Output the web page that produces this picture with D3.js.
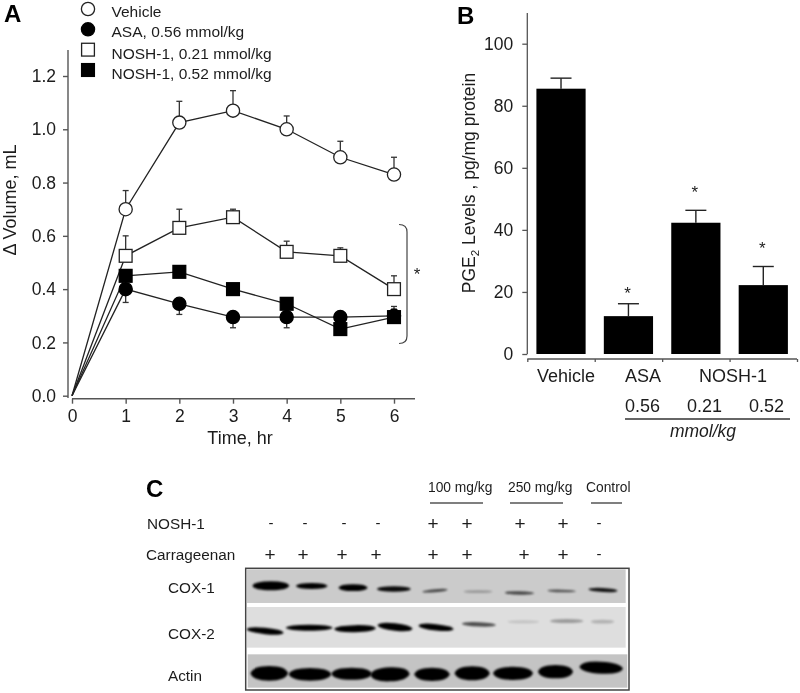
<!DOCTYPE html>
<html><head><meta charset="utf-8">
<script src="https://cdn.jsdelivr.net/npm/d3@7"></script>
<style>
html,body{margin:0;padding:0;background:#fff}
svg{display:block;filter:blur(0.45px)}
text{font-family:"Liberation Sans",Arial,sans-serif;fill:#1c1c1c}
</style></head><body>
<svg id="c" width="800" height="693"></svg>
<script>
// ---- Panel A data
const hours = [0,1,2,3,4,5,6];
const vehicle = [0,0.70,1.025,1.07,1.0,0.895,0.83];
const vehicleErr = [0,0.07,0.08,0.075,0.05,0.06,0.065];
const asa = [0,0.40,0.345,0.295,0.295,0.295,0.30];
const asaErr = [0,-0.05,-0.04,-0.04,-0.04,0,0.035];
const nosh21 = [0,0.525,0.63,0.67,0.54,0.525,0.40];
const nosh21Err = [0,0.075,0.07,0.03,0.04,0.03,0.05];
const nosh52 = [0,0.45,0.465,0.40,0.345,0.25,0.295];
const nosh52Err = [0,0,0,0,0,0,0.03];
const legendLabels = ["Vehicle","ASA, 0.56 mmol/kg","NOSH-1, 0.21 mmol/kg","NOSH-1, 0.52 mmol/kg"];
const yTicksA = [0,0.2,0.4,0.6,0.8,1.0,1.2];
// ---- Panel B data
const barCats = ["Vehicle","ASA","NOSH-1 0.21","NOSH-1 0.52"];
const barVals = [85.5,12.2,42.3,22.2];
const barErr = [3.4,4,4,6];
const barStarAt = [null,20.6,53.2,35.1];
const yTicksB = [0,20,40,60,80,100];
// ---- Panel C data (band positions in gel units)
const plusMinusNosh = ["-","-","-","-","+","+","+","+","-"];
const plusMinusCarr = ["+","+","+","+","+","+","+","+","-"];
const noshMarkX = [271,305,344,378,433,467,520,563,599];
const carrMarkX = [270,303,342,376,433,467,524,563,599];
const cox1Start = [20,150,278,393,530,653,777,905,1028];
const cox1End = [131,246,366,496,606,741,866,991,1116];
const cox1Y = [52,53,58,62,67,70,74,68,65];
const cox1H = [27,18,20,16,9,8,10,8,12];
const cox1Op = [1,1,1,0.95,0.65,0.25,0.65,0.6,0.9];
const cox1Tilt = [0,0,0,0,3,0,-1,-1,-2];
const cox2Start = [2,120,265,395,518,648,785,912,1035];
const cox2End = [114,261,391,501,624,751,881,1014,1106];
const cox2Y = [188,178,181,176,177,168,160,158,160];
const cox2H = [19,18,21,22,19,13,9,12,11];
const cox2Op = [1,1,1,1,1,0.65,0.12,0.3,0.2];
const cox2Tilt = [-5,0,1,-5,-5,-2,0,0,0];
const actinStart = [14,129,257,374,506,627,742,877,1001];
const actinEnd = [127,257,379,492,612,732,862,982,1132];
const actinY = [315,318,316,318,318,315,315,310,298];
const actinH = [44,38,36,42,40,42,40,40,36];
const actinTilt = [0,0,0,2,0,0,0,0,-3];

const svg = d3.select("#c");
const defs = svg.append("defs");
defs.append("filter").attr("id","b1").attr("x","-20%").attr("y","-80%").attr("width","140%").attr("height","260%")
  .append("feGaussianBlur").attr("stdDeviation",1.1);

function T(g,x,y,s,size,opt={}){
  const t=g.append("text").attr("x",x).attr("y",y).attr("font-size",size).text(s);
  if(opt.anchor)t.attr("text-anchor",opt.anchor);
  if(opt.bold)t.attr("font-weight","bold").style("fill","#000");
  if(opt.italic)t.attr("font-style","italic");
  return t;
}
const AX="#555";
// ---------------- Panel A
const A = svg.append("g").attr("id","panelA");
const xA = d3.scaleLinear().domain([0,6]).range([72,394]);
const yA = d3.scaleLinear().domain([0,1.2]).range([395.7,76]);
T(A,4,22,"A",24,{bold:true});
const yAxA = A.append("g").attr("transform","translate(68,0)")
  .call(d3.axisLeft(yA).tickValues(yTicksA).tickFormat(d3.format(".1f")).tickSize(5).tickPadding(7));
yAxA.select(".domain").attr("d","M0,50V398");
const xAxA = A.append("g").attr("transform","translate(0,398.7)")
  .call(d3.axisBottom(xA).tickValues(hours).tickFormat(d3.format("d")).tickSize(5).tickPadding(6));
xAxA.select(".domain").attr("d","M72,0H415");
[yAxA,xAxA].forEach(a=>{a.selectAll("path,line").attr("stroke",AX).attr("stroke-width",1.4);
  a.selectAll("text").attr("font-size",17.5).style("font-family",'"Liberation Sans",Arial,sans-serif');});
T(A,240,444,"Time, hr",18,{anchor:"middle"});
A.append("text").attr("transform","translate(16,200) rotate(-90)").attr("text-anchor","middle").attr("font-size",18).text("Δ Volume, mL");

const seriesA = [
 {v:vehicle,e:vehicleErr,shape:"circle",fill:"#fff"},
 {v:nosh21,e:nosh21Err,shape:"square",fill:"#fff"},
 {v:nosh52,e:nosh52Err,shape:"square",fill:"#000"},
 {v:asa,e:asaErr,shape:"circle",fill:"#000"}
];
const line = d3.line().x((d,i)=>xA(hours[i])).y(d=>yA(d));
seriesA.forEach(s=>{
  A.append("path").attr("d",line(s.v)).attr("fill","none").attr("stroke","#222").attr("stroke-width",1.3);
});
function marker(g,x,y,shape,fill){
  if(shape==="circle") g.append("circle").attr("cx",x).attr("cy",y).attr("r",6.6)
    .attr("fill",fill).attr("stroke",fill==="#000"?"#000":"#222").attr("stroke-width",1.3);
  else g.append("rect").attr("x",x-6.4).attr("y",y-6.4).attr("width",12.8).attr("height",12.8)
    .attr("fill",fill).attr("stroke",fill==="#000"?"#000":"#222").attr("stroke-width",1.3);
}
seriesA.forEach(s=>{
  const g=A.append("g");
  s.v.forEach((d,i)=>{ if(i===0||s.e[i]===0) return;
    const y0=yA(d),y1=yA(d+s.e[i]);
    g.append("line").attr("x1",xA(hours[i])).attr("x2",xA(hours[i])).attr("y1",y0).attr("y2",y1).attr("stroke","#333").attr("stroke-width",1.3);
    g.append("line").attr("x1",xA(hours[i])-3).attr("x2",xA(hours[i])+3).attr("y1",y1).attr("y2",y1).attr("stroke","#333").attr("stroke-width",1.3);
  });
  s.v.forEach((d,i)=>{ if(i===0) return; marker(g,xA(hours[i]),yA(d),s.shape,s.fill); });
});
// legend
const legY=d3.scalePoint().domain(legendLabels).range([9,70]);
const legStyle=[["circle","#fff"],["circle","#000"],["square","#fff"],["square","#000"]];
legendLabels.forEach((l,i)=>{
  marker(A,88,legY(l),legStyle[i][0],legStyle[i][1]);
  T(A,111.5,legY(l)+8+(i>1?1:0),l,15.5);
});
// bracket
A.append("path").attr("d","M399,224.5Q407,224.5 407,232V336Q407,343.5 399,343.5")
  .attr("fill","none").attr("stroke","#444").attr("stroke-width",1.2);
T(A,417,280,"*",17,{anchor:"middle"});

// ---------------- Panel B
const B = svg.append("g").attr("id","panelB");
T(B,457,24,"B",24,{bold:true});
const xB = d3.scaleBand().domain(barCats).range([527.3,797]).paddingInner(0.27).paddingOuter(0.135);
const yB = d3.scaleLinear().domain([0,100]).range([354,43.7]);
const yAxB = B.append("g").attr("transform","translate(527.3,0)")
  .call(d3.axisLeft(yB).tickValues(yTicksB).tickFormat(d3.format("d")).tickSize(5).tickPadding(9));
yAxB.select(".domain").attr("d","M0,13V354");
const xTickScale = d3.scaleLinear().domain([0,4]).range([527.3,797]);
const xAxB = B.append("g").attr("transform","translate(0,359)")
  .call(d3.axisBottom(xTickScale).tickValues([0,1,2,3,4]).tickFormat("").tickSize(3));
xAxB.select(".domain").attr("d","M527.3,0H797");
[yAxB,xAxB].forEach(a=>{a.selectAll("path,line").attr("stroke",AX).attr("stroke-width",1.3);
  a.selectAll("text").attr("font-size",17.5).style("font-family",'"Liberation Sans",Arial,sans-serif');});
barCats.forEach((c,i)=>{
  const cx=xB(c)+xB.bandwidth()/2;
  const top=yB(barVals[i]+barErr[i]);
  B.append("line").attr("x1",cx).attr("x2",cx).attr("y1",yB(barVals[i])).attr("y2",top).attr("stroke","#222").attr("stroke-width",1.4);
  B.append("line").attr("x1",cx-10.5).attr("x2",cx+10.5).attr("y1",top).attr("y2",top).attr("stroke","#222").attr("stroke-width",1.4);
  B.append("rect").attr("x",xB(c)).attr("y",yB(barVals[i])).attr("width",xB.bandwidth()).attr("height",yB(0)-yB(barVals[i])).attr("fill","#000");
  if(barStarAt[i]!==null) T(B,cx-1,yB(barStarAt[i])+9,"*",17,{anchor:"middle"});
});
const yl=B.append("text").attr("transform","translate(475,183) rotate(-90)").attr("text-anchor","middle").attr("font-size",17.5);
yl.append("tspan").text("PGE");
yl.append("tspan").attr("font-size",11.5).attr("dy",4).text("2");
yl.append("tspan").attr("dy",-4).text(" Levels , pg/mg protein");
T(B,537,382,"Vehicle",18);
T(B,625,382,"ASA",18);
T(B,699,382,"NOSH-1",18);
T(B,625,412,"0.56",18);
T(B,687,412,"0.21",18);
T(B,749,412,"0.52",18);
B.append("line").attr("x1",625).attr("x2",790).attr("y1",419).attr("y2",419).attr("stroke","#333").attr("stroke-width",1.3);
T(B,703,437,"mmol/kg",17.5,{anchor:"middle",italic:true});

// ---------------- Panel C
const C = svg.append("g").attr("id","panelC");
T(C,146,497,"C",24,{bold:true});
T(C,428,492,"100 mg/kg",13.8);
T(C,508,492,"250 mg/kg",13.8);
T(C,586,492,"Control",13.8);
[[430,483],[510,563],[591,622]].forEach(d=>C.append("line").attr("x1",d[0]).attr("x2",d[1]).attr("y1",503).attr("y2",503).attr("stroke","#555").attr("stroke-width",1.5));
T(C,147,529,"NOSH-1",15.3);
T(C,146,560,"Carrageenan",15.3);
const mark=(m,x,row)=>m==="+"?T(C,x,row+6.3,m,19,{anchor:"middle"}):T(C,x,row+4,m,15,{anchor:"middle"});
plusMinusNosh.forEach((m,i)=>mark(m,noshMarkX[i],524));
plusMinusCarr.forEach((m,i)=>mark(m,carrMarkX[i],554.5));
T(C,168,593,"COX-1",15.3);
T(C,168,639,"COX-2",15.3);
T(C,168,681,"Actin",15.3);

const gx=d3.scaleLinear().domain([0,1150]).range([245.7,629]);
const gy=d3.scaleLinear().domain([0,365]).range([568.3,690]);
C.append("rect").attr("x",gx(0)).attr("y",gy(0)).attr("width",gx(1150)-gx(0)).attr("height",gy(365)-gy(0)).attr("fill","#fff").attr("stroke","#444").attr("stroke-width",1.5);
C.append("rect").attr("x",gx(4)).attr("y",gy(3)).attr("width",gx(1140)-gx(4)).attr("height",gy(104)-gy(3)).attr("fill","#cbcbcb");
C.append("rect").attr("x",gx(4)).attr("y",gy(116)).attr("width",gx(1140)-gx(4)).attr("height",gy(238)-gy(116)).attr("fill","#dedede");
C.append("rect").attr("x",gx(6)).attr("y",gy(258)).attr("width",gx(1145)-gx(6)).attr("height",gy(358)-gy(258)).attr("fill","#c4c4c4");
function bands(st,en,cy,h,op,tilt,filter){
  st.forEach((s,i)=>{
    const x0=gx(s),x1=gx(en[i]),y=gy(cy[i]),hh=gy(h[i])-gy(0),t=tilt[i]/3;
    const xm=(x0+x1)/2, dx=(xm-x0)*0.12;
    C.append("path")
      .attr("d",`M${x0},${y+t}Q${x0+dx},${y-hh/2+t} ${xm},${y-hh/2}Q${x1-dx},${y-hh/2-t} ${x1},${y-t}Q${x1-dx},${y+hh/2-t} ${xm},${y+hh/2}Q${x0+dx},${y+hh/2+t} ${x0},${y+t}Z`)
      .attr("fill","#050505").attr("opacity",op?op[i]:1).attr("filter",filter);
  });
}
bands(cox1Start,cox1End,cox1Y,cox1H,cox1Op,cox1Tilt,"url(#b1)");
bands(cox2Start,cox2End,cox2Y,cox2H,cox2Op,cox2Tilt,"url(#b1)");
bands(actinStart,actinEnd,actinY,actinH,null,actinTilt,"url(#b1)");
</script>
</body></html>
